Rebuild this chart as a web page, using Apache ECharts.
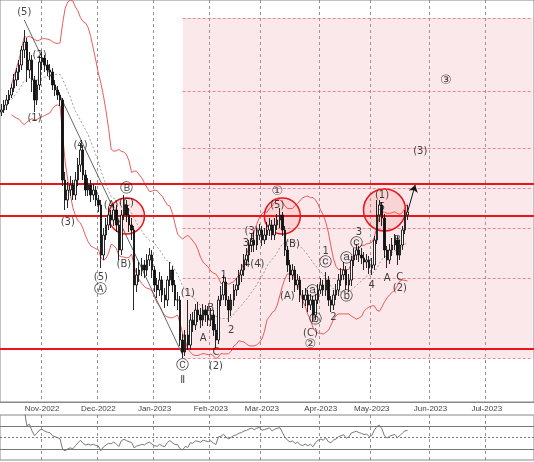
<!DOCTYPE html>
<html>
<head>
<meta charset="utf-8">
<script src="https://cdn.jsdelivr.net/npm/echarts@6/dist/echarts.min.js"></script>
<style>html,body{margin:0;padding:0;background:#fff}#chart{width:534px;height:462px}</style>
</head>
<body>
<div id="chart"></div>
<script>
// levels (pixel rows, top = 0), turned into price as 402 - row
var closeRows = [110,105,100,95,88,80,72,65,50,42,70,60,80,100,85,62,58,65,70,72,
  85,90,95,100,180,200,190,185,195,180,165,150,175,190,185,195,190,200,205,255,
  235,225,215,220,210,225,250,215,205,215,225,230,285,275,270,265,270,260,255,270,
  285,290,280,295,300,280,270,285,300,300,340,352,335,345,320,325,310,315,320,310,
  315,320,315,330,340,300,295,282,300,310,300,290,285,275,270,260,255,245,240,245,
  235,230,240,235,230,225,235,225,220,215,230,250,265,275,270,285,280,295,300,295,
  305,300,315,300,290,285,290,280,300,305,295,290,280,275,270,285,280,260,255,250,
  255,258,262,260,268,265,240,215,205,218,250,260,250,245,240,255,245,230,215,212];
var highRows = [104,100,95,90,84,74,68,60,46,30,38,52,55,76,80,56,52,55,60,64,
  68,80,86,92,98,172,182,176,180,172,158,143,146,170,178,180,184,186,195,200,
  228,218,208,210,204,205,220,210,195,200,208,218,226,268,262,258,260,254,248,250,
  266,278,272,276,288,276,262,266,280,292,296,334,330,300,314,312,304,302,308,304,
  305,306,308,310,324,296,286,275,278,296,294,284,278,270,264,254,248,240,234,232,
  228,224,226,228,222,218,220,218,214,208,212,226,246,260,264,266,274,276,290,288,
  290,294,296,294,284,278,280,272,276,296,290,284,274,268,262,266,274,256,248,244,
  246,248,252,254,256,258,236,200,200,202,214,246,244,238,234,236,240,226,210,205];
var lowRows = [116,113,110,104,98,92,86,80,70,58,82,78,92,112,105,90,70,72,76,80,
  90,96,100,106,186,210,208,196,200,200,186,172,180,196,196,202,200,206,212,268,
  260,240,230,228,226,232,260,255,220,222,232,240,310,292,282,276,278,276,266,278,
  292,298,296,302,308,306,286,292,306,310,346,358,356,350,350,332,330,322,328,326,
  322,326,326,336,348,344,306,300,306,322,316,306,296,290,282,276,266,262,252,252,
  250,240,246,244,240,236,240,240,230,228,236,256,272,282,280,292,290,302,308,306,
  312,310,322,320,304,294,296,296,306,312,310,300,296,286,280,290,292,286,266,260,
  262,264,270,268,274,275,270,244,222,226,258,268,264,256,250,265,260,250,234,220];
var firstOpenRow = 112;

var hLineRows = [184, 216, 349];
var zoneRows = [18, 358];
var zoneGridRows = [18, 91, 148, 188, 228, 278, 358];
var zoneStart = 71;
var circles = [[49, 216, 36], [110, 216, 36], [150, 210, 42]];
var trendLine = [[9, 20], [71, 355]];
var arrowLine = [[159, 212], [162, 185]];
var waveLabels = [
  [9, 12, '(5)'], [15, 55, '(2)'], [13, 118, '(1)'], [31, 145, '(4)'], [26, 222, '(3)'],
  [43, 205, '(A)'], [49, 189, 'Ⓑ'], [49, 203, '(C)'], [48, 264, '(B)'], [39, 277, '(5)'], [39, 290, 'Ⓐ'],
  [73, 293, '(1)'], [82, 308, 'B'], [79, 338, 'A'], [84, 352, 'C'], [71, 366, 'Ⓒ'], [71, 380, 'Ⅱ'],
  [84, 366, '(2)'], [87, 275, '1'], [90, 330, '2'], [98, 231, '(3)'], [97, 243, '35'], [99, 264, '4(4)'],
  [108, 192, '①'], [108, 205, '(5)'], [114, 244, '(B)'], [112, 296, '(A)'], [122, 292, 'ⓐ'], [123, 320, 'ⓑ'],
  [121, 333, '(C)'], [121, 345, '②'], [127, 251, '1'], [127, 263, 'ⓒ'], [130, 317, '2'],
  [135, 259, 'ⓐ'], [135, 297, 'ⓑ'], [140, 232, '3'], [139, 244, 'ⓒ'], [145, 285, '4'],
  [149, 195, '(1)'], [149, 207, '5'], [151, 278, 'A'], [155, 240, 'B'], [156, 277, 'C'], [156, 288, '(2)'],
  [164, 151, '(3)'], [174, 81, '③']
];
var circledGlyphs = 'ⒶⒷⒸⓐⓑⓒ①②③⑤';
var monthNames = ['Jan','Feb','Mar','Apr','May','Jun','Jul','Aug','Sep','Oct','Nov','Dec'];

function p(row) { return 402 - row; }

// weekday categories from 10 Oct 2022
var dates = [];
var d = new Date(2022, 9, 10);
while (dates.length < 209) {
  if (d.getDay() !== 0 && d.getDay() !== 6) dates.push(new Date(d));
  d.setDate(d.getDate() + 1);
}
var cats = dates.map(function (x) { return x.getFullYear() + '-' + (x.getMonth() + 1) + '-' + x.getDate(); });
function monthStart(i) { return i > 0 && dates[i].getMonth() !== dates[i - 1].getMonth(); }

var closes = closeRows.map(p);
var candles = closeRows.map(function (c, i) {
  var o = i === 0 ? firstOpenRow : closeRows[i - 1];
  return [p(o), p(c), p(lowRows[i]), p(highRows[i])];
});

// bollinger 20, 2
var up = [], mid = [], lo = [];
closes.forEach(function (v, i) {
  if (i < 4) { up.push('-'); mid.push('-'); lo.push('-'); return; }
  var w = closes.slice(Math.max(0, i - 19), i + 1);
  var m = w.reduce(function (a, b) { return a + b; }, 0) / w.length;
  var s = Math.sqrt(w.reduce(function (a, b) { return a + (b - m) * (b - m); }, 0) / w.length);
  mid.push(m); up.push(m + 2 * s); lo.push(m - 2 * s);
});

// rsi 14
var rsi = ['-'];
var ag = 0, al = 0;
for (var i = 1; i < closes.length; i++) {
  var ch = closes[i] - closes[i - 1];
  var g = ch > 0 ? ch : 0, l = ch < 0 ? -ch : 0;
  if (i <= 14) { ag += g / 14; al += l / 14; }
  else { ag = (ag * 13 + g) / 14; al = (al * 13 + l) / 14; }
  var n = Math.min(i, 14) / 14;
  var a = ag / n, b = al / n;
  rsi.push(b === 0 ? 100 : 100 - 100 / (1 + a / b));
}

var chart = echarts.init(document.getElementById('chart'));
var gridLine = { show: true, interval: function (i) { return monthStart(i); }, lineStyle: { color: '#777', type: [3, 3], width: 0.8 } };

var zoneLines = zoneGridRows.map(function (r) {
  return [{ coord: [zoneStart, p(r)] }, { coord: [cats.length - 1, p(r)] }];
});

chart.setOption({
  animation: false,
  grid: [
    { left: 0, right: 0, top: 0, height: 402, show: true, borderColor: '#888', borderWidth: 1 },
    { left: 0, right: 0, top: 415, height: 45, show: true, borderColor: '#888', borderWidth: 1 }
  ],
  xAxis: [
    { type: 'category', data: cats, gridIndex: 0, boundaryGap: true,
      axisLine: { lineStyle: { color: '#888' } }, axisTick: { show: false },
      axisLabel: { interval: function (i) { return monthStart(i); }, margin: 3, fontSize: 8, color: '#444', fontFamily: 'Liberation Sans',
        formatter: function (v, i) { return monthNames[dates[i].getMonth()] + '-' + dates[i].getFullYear(); } },
      splitLine: gridLine },
    { type: 'category', data: cats, gridIndex: 1, boundaryGap: true,
      axisLine: { show: false }, axisTick: { show: false }, axisLabel: { show: false }, splitLine: gridLine }
  ],
  yAxis: [
    { type: 'value', gridIndex: 0, min: 0, max: 402, show: false },
    { type: 'value', gridIndex: 1, min: 10, max: 90, show: false }
  ],
  series: [
    { type: 'line', data: up, symbol: 'none', lineStyle: { color: '#e84a4a', width: 0.9 }, z: 3 },
    { type: 'line', data: lo, symbol: 'none', lineStyle: { color: '#e84a4a', width: 0.9 }, z: 3 },
    { type: 'line', data: mid, symbol: 'none', lineStyle: { color: '#888', width: 0.8, type: [2, 2] }, z: 3 },
    { type: 'candlestick', data: candles, barWidth: 2, z: 5,
      itemStyle: { color: '#fff', color0: '#111', borderColor: '#111', borderColor0: '#111', borderWidth: 0.9 },
      markArea: { silent: true, itemStyle: { color: 'rgba(232,150,160,0.22)' },
        data: [[{ coord: [zoneStart, p(zoneRows[1])] }, { coord: [cats.length - 1, p(zoneRows[0])] }]] },
      markLine: { silent: true, symbol: 'none', label: { show: false }, animation: false,
        data: zoneLines.map(function (z) { return [Object.assign({ lineStyle: { color: '#e06070', width: 0.7, type: [3, 2] } }, z[0]), z[1]]; })
          .concat(hLineRows.map(function (r) { return { yAxis: p(r), lineStyle: { color: '#e8161b', width: 1.8, type: 'solid' } }; }))
          .concat([[{ coord: [trendLine[0][0], p(trendLine[0][1])], lineStyle: { color: '#666', width: 1, type: 'solid' } },
                    { coord: [trendLine[1][0], p(trendLine[1][1])] }]])
      },
      markPoint: { silent: true, label: { show: false },
        data: circles.map(function (c) {
          return { coord: [c[0], p(c[1])], symbol: 'circle', symbolSize: c[2],
            itemStyle: { color: 'rgba(255,60,60,0.12)', borderColor: '#e8161b', borderWidth: 1.5 } };
        }) }
    },
    { type: 'line', data: [], symbol: 'none',
      markLine: { silent: true, symbol: ['none', 'arrow'], symbolSize: 7, label: { show: false },
        data: [[{ coord: [arrowLine[0][0], p(arrowLine[0][1])], lineStyle: { color: '#111', width: 1, type: 'solid' } },
                { coord: [arrowLine[1][0], p(arrowLine[1][1])] }]] } },
    { type: 'scatter', symbolSize: 0, z: 10, silent: true,
      data: waveLabels.map(function (w) {
        var big = circledGlyphs.indexOf(w[2]) >= 0;
        return { value: [w[0], p(w[1]), w[2]], label: { fontSize: big ? 13 : 10 } };
      }),
      label: { show: true, position: 'inside', fontSize: 10, color: '#111', fontFamily: 'DejaVu Sans',
        formatter: function (q) { return q.data.value[2]; } } },
    { type: 'line', xAxisIndex: 1, yAxisIndex: 1, data: rsi, symbol: 'none',
      lineStyle: { color: '#777', width: 1 },
      markLine: { silent: true, symbol: 'none', label: { show: false },
        data: [{ yAxis: 70, lineStyle: { color: '#777', width: 1, type: 'solid' } },
               { yAxis: 50, lineStyle: { color: '#777', width: 1, type: [2, 2] } },
               { yAxis: 30, lineStyle: { color: '#777', width: 1, type: 'solid' } }] } }
  ]
});
</script>
</body>
</html>
